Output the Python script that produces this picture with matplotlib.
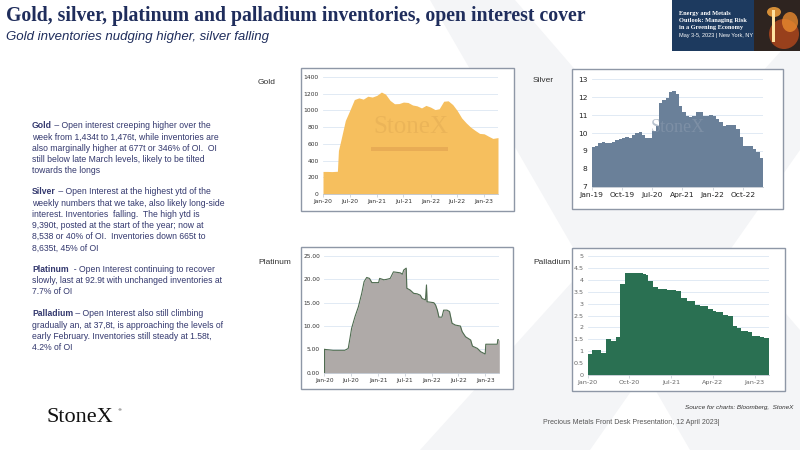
"""
Slide: gold, silver, platinum and palladium inventories vs open interest.
Four small area charts plus commentary text, drawn on a 800x450 canvas.
"""
import numpy as np
import pandas as pd
import matplotlib
matplotlib.use("Agg")
import matplotlib.pyplot as plt
import matplotlib.dates as mdates
from matplotlib.patches import Rectangle, Polygon, Ellipse

# ---- data ----
gold_dates = ["2020-01-01", "2020-02-01", "2020-03-01", "2020-04-08", "2020-04-15",
              "2020-05-01", "2020-06-01", "2020-07-01", "2020-08-01", "2020-09-01",
              "2020-10-01", "2020-11-01", "2020-12-01", "2021-01-01", "2021-02-01",
              "2021-03-01", "2021-04-01", "2021-05-01", "2021-06-01", "2021-07-01",
              "2021-08-01", "2021-09-01", "2021-10-01", "2021-11-01", "2021-12-01",
              "2022-01-01", "2022-02-01", "2022-03-01", "2022-04-01", "2022-05-01",
              "2022-06-01", "2022-07-01", "2022-08-01", "2022-09-01", "2022-10-01",
              "2022-11-01", "2022-12-01", "2023-01-01", "2023-02-01", "2023-03-01",
              "2023-04-05"]
gold_tonnes = [270, 270, 268, 272, 520,
               640, 880, 1000, 1130, 1150,
               1135, 1170, 1160, 1180, 1220,
               1195, 1120, 1080, 1082, 1100,
               1095, 1065, 1055, 1030, 1060,
               1040, 1010, 1020, 1110, 1115,
               1070, 1000, 910, 850, 800,
               760, 725, 720, 690, 665,
               675]

silver_start = "2019-01-01"
silver_vals = [9.22, 9.25, 9.45, 9.50, 9.45, 9.45, 9.52, 9.60, 9.68, 9.72,
               9.75, 9.70, 9.90, 10.02, 10.08, 9.90, 9.70, 9.72, 10.10, 10.40,
               11.65, 11.85, 11.95, 12.30, 12.37, 12.20, 11.50, 11.20, 10.95, 10.90,
               10.95, 11.20, 11.15, 10.95, 10.95, 11.00, 10.95, 10.80, 10.60, 10.40,
               10.45, 10.45, 10.42, 10.20, 9.75, 9.30, 9.30, 9.30, 9.10, 8.95,
               8.60, 8.60]

plat_dates = ["2020-01-01", "2020-03-01", "2020-05-20", "2020-06-12", "2020-06-24",
              "2020-07-05", "2020-07-28", "2020-08-20", "2020-09-12", "2020-09-28",
              "2020-10-16", "2020-11-04", "2020-11-20", "2021-01-05", "2021-01-12",
              "2021-02-10", "2021-03-01", "2021-03-25", "2021-04-16", "2021-06-01",
              "2021-06-16", "2021-06-25", "2021-07-12", "2021-07-16", "2021-08-08",
              "2021-09-01", "2021-09-24", "2021-10-16", "2021-10-28", "2021-11-20",
              "2021-11-27", "2021-12-01", "2022-01-16", "2022-01-28", "2022-02-09",
              "2022-02-20", "2022-03-12", "2022-03-24", "2022-04-16", "2022-05-03",
              "2022-05-20", "2022-06-12", "2022-07-16", "2022-07-28", "2022-08-20",
              "2022-09-24", "2022-10-06", "2022-11-09", "2022-12-01", "2023-01-01",
              "2023-01-05", "2023-03-24", "2023-03-28", "2023-04-07"]
plat_vals = [5.0, 4.8, 4.8, 5.2, 7.4,
             9.5, 12.0, 14.1, 17.0, 19.5,
             20.4, 20.2, 19.3, 19.3, 20.2,
             19.9, 20.0, 20.2, 21.6, 21.4,
             21.1, 22.0, 22.4, 18.1, 17.7,
             17.0, 16.9, 16.6, 15.9, 15.6,
             18.8, 15.2, 15.0, 14.5, 13.4,
             11.9, 11.9, 13.4, 13.4, 13.1,
             10.6, 10.2, 10.0, 8.8, 7.7,
             7.0, 5.7, 5.2, 4.5, 4.0,
             6.1, 6.1, 7.1, 7.0]

pall_dates = ["2020-01-01", "2020-02-01", "2020-03-28", "2020-05-01", "2020-06-01",
              "2020-07-03", "2020-08-01", "2020-09-03", "2021-01-01", "2021-01-18",
              "2021-02-03", "2021-03-06", "2021-04-04", "2021-06-06", "2021-08-01",
              "2021-09-04", "2021-10-12", "2021-12-06", "2022-01-07", "2022-03-01",
              "2022-04-01", "2022-04-25", "2022-06-09", "2022-07-12", "2022-08-09",
              "2022-09-06", "2022-10-06", "2022-11-20", "2022-12-12", "2023-02-03",
              "2023-02-28", "2023-04-07"]
pall_vals = [0.90, 1.05, 0.92, 1.51, 1.44,
             1.61, 3.82, 4.27, 4.24, 4.20,
             3.96, 3.68, 3.63, 3.57, 3.54,
             3.22, 3.12, 2.94, 2.90, 2.77,
             2.69, 2.66, 2.52, 2.48, 2.07,
             1.96, 1.86, 1.80, 1.64, 1.61,
             1.57, 1.57]

gold_ticks = ["2020-01-01", "2020-07-01", "2021-01-01", "2021-07-01",
              "2022-01-01", "2022-07-01", "2023-01-01"]
silver_ticks = ["2019-01-01", "2019-10-01", "2020-07-01", "2021-04-01",
                "2022-01-01", "2022-10-01"]
pall_ticks = ["2020-01-01", "2020-10-01", "2021-07-01", "2022-04-01", "2023-01-01"]

NAVY = "#1F2D5C"
TEXT = "#33386E"
GRID = "#DCE7F2"
BOX = "#8E97A6"

fig = plt.figure(figsize=(8, 4.5), dpi=100)
W, H = 800, 450

# background canvas in pixel coordinates
bg = fig.add_axes([0, 0, 1, 1], zorder=0)
bg.set_xlim(0, W)
bg.set_ylim(H, 0)
bg.axis("off")

# faint StoneX "X" watermark
wm = "#F4F5F7"
bg.add_patch(Polygon([(430, 0), (515, 0), (800, 330), (800, 450), (690, 450)],
                     closed=True, fc=wm, ec="none"))
bg.add_patch(Polygon([(800, 30), (800, 150), (590, 450), (420, 450)],
                     closed=True, fc=wm, ec="none"))

# banner at top right
bg.add_patch(Rectangle((672, 0), 128, 51, fc="#1D3A5F", ec="none"))
bg.add_patch(Rectangle((754, 0), 46, 51, fc="#2E2420", ec="none"))
bg.add_patch(Ellipse((784, 34), 30, 30, fc="#B4481C", ec="none", alpha=0.8))
bg.add_patch(Ellipse((790, 22), 16, 20, fc="#E8892E", ec="none", alpha=0.8))
bg.add_patch(Ellipse((774, 12), 14, 10, fc="#E89A3A", ec="none", alpha=0.9))
bg.add_patch(Rectangle((772, 10), 3, 32, fc="#FFE3A0", ec="none"))
for i, s in enumerate(["Energy and Metals", "Outlook: Managing Risk",
                       "in a Greening Economy"]):
    bg.text(679, 13 + 7.5 * i, s, color="white", fontsize=4.6, fontweight="bold",
            family="Liberation Serif", va="center")
bg.text(679, 36, "May 3-5, 2023 | New York, NY", color="white", fontsize=4.0,
        family="Liberation Sans", va="center")

# title and subtitle
bg.text(6, 16, "Gold, silver, platinum and palladium inventories, open interest cover",
        color=NAVY, fontsize=14.2, fontweight="bold", family="Liberation Serif",
        va="center")
bg.text(6, 37, "Gold inventories nudging higher, silver falling", color=NAVY,
        fontsize=9.5, style="italic", family="Liberation Sans", va="center")

# commentary paragraphs
renderer = fig.canvas.get_renderer()
LS = 11.2
FS = 6.2


def paragraph(y, head, lines):
    t = bg.text(32, y, head, color=TEXT, fontsize=FS, fontweight="bold",
                family="Liberation Sans", va="center")
    w = t.get_window_extent(renderer).width
    bg.text(32 + w, y, lines[0], color=TEXT, fontsize=FS,
            family="Liberation Sans", va="center")
    for i, s in enumerate(lines[1:], start=1):
        bg.text(32, y + LS * i, s, color=TEXT, fontsize=FS,
                family="Liberation Sans", va="center")


paragraph(126, "Gold", [" \u2013 Open interest creeping higher over the",
                        "week from 1,434t to 1,476t, while inventories are",
                        "also marginally higher at 677t or 346% of OI.  OI",
                        "still below late March levels, likely to be tilted",
                        "towards the longs"])
paragraph(192, "Silver", [" \u2013 Open Interest at the highest ytd of the",
                          "weekly numbers that we take, also likely long-side",
                          "interest. Inventories  falling.  The high ytd is",
                          "9,390t, posted at the start of the year; now at",
                          "8,538 or 40% of OI.  Inventories down 665t to",
                          "8,635t, 45% of OI"])
paragraph(269, "Platinum", ["  - Open Interest continuing to recover",
                            "slowly, last at 92.9t with unchanged inventories at",
                            "7.7% of OI"])
paragraph(314, "Palladium", [" \u2013 Open Interest also still climbing",
                             "gradually an, at 37,8t, is approaching the levels of",
                             "early February. Inventories still steady at 1.58t,",
                             "4.2% of OI"])

# chart frames and labels
for (x0, y0, x1, y1) in [(301, 68, 514, 211), (572, 69, 783, 209),
                         (301, 247, 513, 389), (572, 248, 785, 391)]:
    bg.add_patch(Rectangle((x0, y0), x1 - x0, y1 - y0, fc="white", ec=BOX, lw=1))
for (x, y, s) in [(258, 82, "Gold"), (533, 80, "Silver"),
                  (258, 262, "Platinum"), (533, 262, "Palladium")]:
    bg.text(x, y, s, color="#333333", fontsize=6, family="Liberation Sans",
            va="center")

# footer
bg.text(46, 418, "StoneX", color="#111111", fontsize=16, family="Liberation Serif",
        va="center")
bg.text(117, 410, "\u00ae", color="#111111", fontsize=3, va="center")
bg.text(793, 407, "Source for charts: Bloomberg,  StoneX", color="#333333",
        fontsize=4.6, style="italic", family="Liberation Sans", va="center", ha="right")
bg.text(543, 423, "Precious Metals Front Desk Presentation, 12 April 2023|",
        color="#555555", fontsize=5.0, family="Liberation Sans", va="center")


def px_axes(x0, x1, ytop, ybot):
    return fig.add_axes([x0 / W, 1 - ybot / H, (x1 - x0) / W, (ybot - ytop) / H],
                        zorder=2)


def style(ax, ticksize, tickcolor, ticks, fmt):
    ax.set_facecolor("none")
    for s in ["left", "right", "top"]:
        ax.spines[s].set_visible(False)
    ax.spines["bottom"].set_color("#BFC6D0")
    ax.spines["bottom"].set_linewidth(0.6)
    ax.grid(axis="y", color=GRID, lw=0.6)
    ax.set_axisbelow(True)
    ax.tick_params(axis="y", length=0, labelsize=ticksize, labelcolor=tickcolor, pad=3)
    ax.tick_params(axis="x", length=2, width=0.5, color="#BFC6D0",
                   labelsize=ticksize, labelcolor=tickcolor, pad=1.5)
    ax.set_xticks(pd.to_datetime(ticks))
    ax.xaxis.set_major_formatter(mdates.DateFormatter(fmt))


# Gold
gd = pd.to_datetime(gold_dates)
ax = px_axes(323, 498, 77, 194)
ax.fill_between(gd, gold_tonnes, color="#F6BF5E", lw=0)
ax.set_ylim(0, 1400)
ax.set_yticks(range(0, 1401, 200))
ax.set_xlim(gd[0], gd[-1])
style(ax, 4.3, "#333333", gold_ticks, "%b-%y")
ax.text(0.5, 0.57, "StoneX", transform=ax.transAxes, ha="center", va="center",
        fontsize=18, family="Liberation Serif", color="#E4AE55", alpha=0.6)
ax.add_patch(Rectangle((0.275, 0.37), 0.44, 0.03, transform=ax.transAxes,
                       fc="#E3A552", ec="none", alpha=0.7))

# Silver
sd = pd.date_range(silver_start, periods=len(silver_vals), freq="MS")
ax = px_axes(591.7, 763, 79.3, 186.7)
ax.fill_between(sd, silver_vals, 7, step="post", color="#6A8099", lw=0)
ax.set_ylim(7, 13)
ax.set_yticks(range(7, 14))
ax.set_xlim(sd[0], sd[-1])
style(ax, 5.4, "#222222", silver_ticks, "%b-%y")
ax.text(0.5, 0.55, "StoneX", transform=ax.transAxes, ha="center", va="center",
        fontsize=13, family="Liberation Serif", color="#8A9AAE", alpha=0.6)

# Platinum
pd_ = pd.to_datetime(plat_dates)
ax = px_axes(324.3, 499.3, 256, 372.7)
ax.fill_between(pd_, plat_vals, color="#AFAAA8", lw=0)
ax.plot(pd_, plat_vals, color="#4F6B50", lw=0.8)
ax.plot([pd_[0], pd_[0]], [0, plat_vals[0]], color="#4F6B50", lw=0.8)
ax.set_ylim(0, 25)
ax.set_yticks(range(0, 26, 5))
ax.yaxis.set_major_formatter(matplotlib.ticker.FormatStrFormatter("%.2f"))
ax.set_xlim(pd_[0], pd_[-1])
style(ax, 4.2, "#333333", gold_ticks, "%b-%y")

# Palladium
ad = pd.to_datetime(pall_dates)
ax = px_axes(587.7, 769.3, 256, 375)
ax.fill_between(ad, pall_vals, step="post", color="#2A7052", lw=0)
ax.set_ylim(0, 5)
ax.set_yticks(np.arange(0, 5.01, 0.5))
ax.yaxis.set_major_formatter(matplotlib.ticker.FuncFormatter(lambda v, p: f"{v:g}"))
ax.set_xlim(ad[0], ad[-1])
style(ax, 4.6, "#666666", pall_ticks, "%b-%y")

fig.savefig("out.png", dpi=100)
